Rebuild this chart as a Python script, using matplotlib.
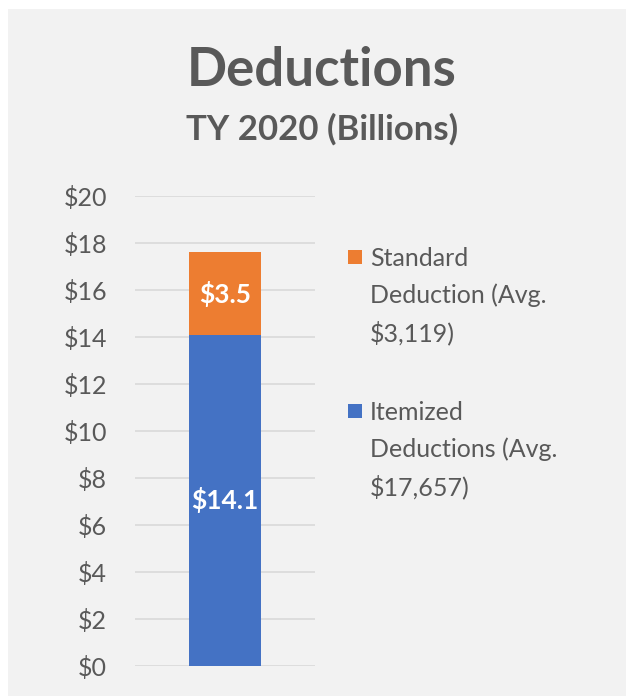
import matplotlib.pyplot as plt
from matplotlib.patches import Rectangle

plt.rcParams['font.family'] = ['Lato', 'DejaVu Sans']

categories = ['TY 2020']
itemized = [14.1]
standard = [3.5]
series_names = ['Itemized\nDeductions (Avg.\n$17,657)', 'Standard\nDeduction (Avg.\n$3,119)']
ticks = [0, 2, 4, 6, 8, 10, 12, 14, 16, 18, 20]
tick_labels = ['$' + str(t) for t in ticks]

blue = '#4472C4'
orange = '#ED7D31'
grey_txt = '#595959'

fig = plt.figure(figsize=(6.26, 6.97), dpi=100)
fig.patches.append(Rectangle((8 / 626, 0.002), 1, 1 - 9 / 697 - 0.002, transform=fig.transFigure,
                             facecolor='#F2F2F2', edgecolor='none', zorder=-10))

ax = fig.add_axes([135 / 626, 1 - 666 / 697, 180 / 626, 470 / 697])
ax.set_facecolor('none')
b1 = ax.bar(categories, itemized, width=0.4, color=blue, zorder=3)
b2 = ax.bar(categories, standard, bottom=itemized, width=0.4, color=orange, zorder=3)
ax.bar_label(b1, labels=['$' + str(v) for v in itemized], label_type='center',
             color='white', fontsize=19, fontweight='bold')
ax.bar_label(b2, labels=['$' + str(v) for v in standard], label_type='center',
             color='white', fontsize=19, fontweight='bold')

ax.set_xlim(-0.5, 0.5)
ax.set_ylim(0, 20)
ax.set_yticks(ticks)
ax.set_yticklabels(tick_labels, fontsize=18, color=grey_txt)
ax.tick_params(axis='y', length=0, pad=20)
ax.set_xticks([])
ax.yaxis.grid(True, color='#D9D9D9', linewidth=1.2, zorder=0)
for s in ax.spines.values():
    s.set_visible(False)

fig.text(322 / 626, 1 - 71 / 697, 'Deductions', ha='center', va='center',
         fontsize=38, fontweight='bold', color=grey_txt)
fig.text(322 / 626, 1 - 129 / 697, 'TY 2020 (Billions)', ha='center', va='center',
         fontsize=25, fontweight='bold', color=grey_txt)

# legend drawn by hand: standard on top, itemized below
leg_y = [257, 411]
for name, col, y in zip(series_names[::-1], [orange, blue], leg_y):
    fig.patches.append(Rectangle((348 / 626, 1 - (y + 7) / 697), 14 / 626, 14 / 697,
                                 transform=fig.transFigure, facecolor=col, edgecolor='none'))
    fig.text(370 / 626, 1 - (y - 10) / 697, name, ha='left', va='top',
             fontsize=18, color=grey_txt, linespacing=1.66)

fig.savefig('out.png', dpi=100)
